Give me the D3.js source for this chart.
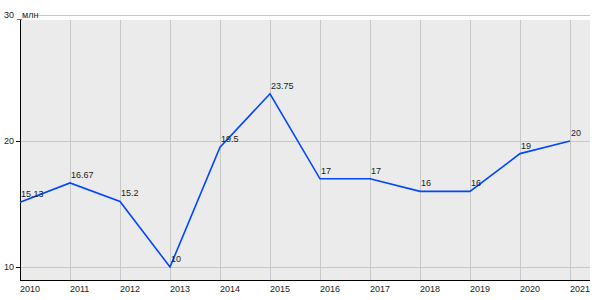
<!DOCTYPE html>
<html>
<head>
<meta charset="utf-8">
<script src="https://cdn.jsdelivr.net/npm/d3@7"></script>
<style>
  body { margin: 0; background: #fff; }
  svg text { font-family: "Liberation Sans", Arial, sans-serif; font-size: 9px; }
</style>
</head>
<body>
<div id="wrapper"></div>
<script>
// data
const years = [2010, 2011, 2012, 2013, 2014, 2015, 2016, 2017, 2018, 2019, 2020, 2021]
const values = [15.13, 16.67, 15.2, 10, 19.5, 23.75, 17, 17, 16, 16, 19, 20]
const yTicks = [10, 20, 30]
const unitLabel = "_млн"

const width = 600
const height = 300
const plot = { left: 20, right: 590, top: 20, bottom: 280 }

const svg = d3.select("#wrapper")
  .append("svg")
    .attr("width", width)
    .attr("height", height)

const xScale = d3.scaleLinear()
  .domain([years[0], years[years.length - 1]])
  .range([20, 570])

const yScale = d3.scaleLinear()
  .domain([10, 30])
  .range([267, 15])

// plot background
svg.append("rect")
    .attr("x", plot.left)
    .attr("y", plot.top)
    .attr("width", plot.right - plot.left)
    .attr("height", plot.bottom - plot.top)
    .attr("fill", "#ebebeb")

// vertical grid
svg.append("g")
  .selectAll("line")
  .data(years.slice(1))
  .join("line")
    .attr("x1", d => Math.round(xScale(d)) + 0.5)
    .attr("x2", d => Math.round(xScale(d)) + 0.5)
    .attr("y1", plot.top)
    .attr("y2", plot.bottom)
    .attr("stroke", "#c8c8c8")

// horizontal grid
svg.append("g")
  .selectAll("line")
  .data(yTicks)
  .join("line")
    .attr("x1", d => d === 30 ? 38 : plot.left)
    .attr("x2", plot.right)
    .attr("y1", d => Math.round(yScale(d)) + 0.5)
    .attr("y2", d => Math.round(yScale(d)) + 0.5)
    .attr("stroke", "#c8c8c8")

// axes lines
svg.append("line")
    .attr("x1", plot.left + 0.5).attr("x2", plot.left + 0.5)
    .attr("y1", plot.top).attr("y2", plot.bottom + 1)
    .attr("stroke", "#000")
svg.append("line")
    .attr("x1", plot.left).attr("x2", plot.right)
    .attr("y1", plot.bottom + 0.5).attr("y2", plot.bottom + 0.5)
    .attr("stroke", "#000")

// y ticks
const yAxis = svg.append("g")
yAxis.selectAll("line")
  .data(yTicks.filter(d => d !== 30))
  .join("line")
    .attr("x1", 16).attr("x2", plot.left)
    .attr("y1", d => Math.round(yScale(d)) + 0.5)
    .attr("y2", d => Math.round(yScale(d)) + 0.5)
    .attr("stroke", "#000")
yAxis.selectAll("text")
  .data(yTicks)
  .join("text")
    .attr("x", 14)
    .attr("y", d => yScale(d) + 3)
    .attr("text-anchor", "end")
    .attr("fill", "#222")
    .text(d => d)
svg.append("text")
    .attr("x", 17)
    .attr("y", yScale(30) + 3)
    .attr("fill", "#222")
    .text(unitLabel)

// x tick labels
svg.append("g")
  .selectAll("text")
  .data(years)
  .join("text")
    .attr("x", d => xScale(d))
    .attr("y", 292)
    .attr("fill", "#222")
    .text(d => d)

// line
const line = d3.line()
  .x((d, i) => xScale(years[i]))
  .y(d => yScale(d))

svg.append("path")
    .datum(values)
    .attr("d", line)
    .attr("fill", "none")
    .attr("stroke", "#0047ff")
    .attr("stroke-width", 1.6)

// value labels
svg.append("g")
  .selectAll("text")
  .data(values)
  .join("text")
    .attr("x", (d, i) => xScale(years[i]) + 1)
    .attr("y", d => yScale(d) - 5)
    .attr("fill", "#222")
    .text(d => d)
</script>
</body>
</html>
